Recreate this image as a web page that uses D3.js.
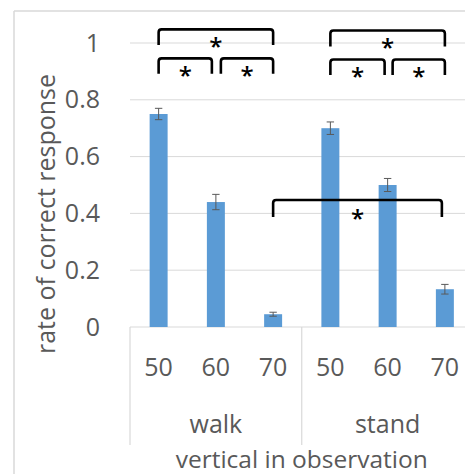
<!DOCTYPE html>
<html>
<head>
<meta charset="utf-8">
<script src="https://cdn.jsdelivr.net/npm/d3@7"></script>
<style>
  html, body { margin: 0; padding: 0; background: #fff; overflow: hidden; }
  svg { display: block; }
  text { font-family: "Open Sans", sans-serif; fill: #595959; }
</style>
</head>
<body>
<svg id="chart" width="465" height="474"></svg>
<script>
// ---- data ----
const groups = ["walk", "stand"];
const levels = ["50", "60", "70"];
const walkValues = [0.75, 0.44, 0.045];
const standValues = [0.70, 0.50, 0.133];
const walkErrors = [0.020, 0.027, 0.007];
const standErrors = [0.022, 0.023, 0.017];
const yTicks = [0, 0.2, 0.4, 0.6, 0.8, 1];
const yTickLabels = ["0", "0.2", "0.4", "0.6", "0.8", "1"];
const yTitle = "rate of correct response";
const xTitle = "vertical in observation";
// significance brackets: [group, level] to [group, level], top value, leg-bottom value
const brackets = [
  { a: ["walk", "50"], b: ["walk", "70"], top: 1.048, bottom: 0.993, ia: 0, ib: 0 },
  { a: ["walk", "50"], b: ["walk", "60"], top: 0.946, bottom: 0.892, ia: 0, ib: -4 },
  { a: ["walk", "60"], b: ["walk", "70"], top: 0.946, bottom: 0.892, ia: 5, ib: 0 },
  { a: ["stand", "50"], b: ["stand", "70"], top: 1.044, bottom: 0.988, ia: 0, ib: 0 },
  { a: ["stand", "50"], b: ["stand", "60"], top: 0.942, bottom: 0.887, ia: 0, ib: -3 },
  { a: ["stand", "60"], b: ["stand", "70"], top: 0.942, bottom: 0.887, ia: 5, ib: 0 },
  { a: ["walk", "70"], b: ["stand", "70"], top: 0.447, bottom: 0.387, ia: 0, ib: -3 }
];

const rows = [];
groups.forEach((g, gi) => {
  const vals = gi === 0 ? walkValues : standValues;
  const errs = gi === 0 ? walkErrors : standErrors;
  levels.forEach((l, li) => rows.push({ group: g, level: l, value: vals[li], err: errs[li] }));
});

// ---- layout ----
const svg = d3.select("#chart");
const plotLeft = 130, plotRight = 473.5, yTop = 43, yBottom = 327;
const axisBottom = 445;
const gridColor = "#D9D9D9";

const y = d3.scaleLinear().domain([0, 1]).range([yBottom, yTop]);
const x0 = d3.scaleBand().domain(groups).range([plotLeft, plotRight]).padding(0);
const x1 = d3.scaleBand().domain(levels).range([0, x0.bandwidth()])
  .paddingInner(0.686).paddingOuter(0.343);
const cx = (g, l) => x0(g) + x1(l) + x1.bandwidth() / 2;

// outer chart frame (partially visible)
svg.append("line").attr("x1", 14).attr("x2", 14).attr("y1", 11).attr("y2", 474)
  .attr("stroke", gridColor).attr("stroke-width", 1.5);
svg.append("line").attr("x1", 14).attr("x2", 465).attr("y1", 11).attr("y2", 11)
  .attr("stroke", gridColor).attr("stroke-width", 1.5);

// gridlines
svg.append("g").selectAll("line").data(yTicks.filter(d => d > 0)).join("line")
  .attr("x1", plotLeft).attr("x2", plotRight)
  .attr("y1", d => y(d)).attr("y2", d => y(d))
  .attr("stroke", gridColor).attr("stroke-width", 1);

// y axis labels
const yAxis = d3.axisLeft(y).tickValues(yTicks)
  .tickFormat((d, i) => yTickLabels[i]).tickSize(0).tickPadding(30);
const gy = svg.append("g").attr("transform", `translate(${plotLeft},0)`).call(yAxis);
gy.select(".domain").remove();
gy.selectAll("text").attr("font-size", 25).attr("fill", "#595959")
  .attr("font-family", "Open Sans, sans-serif");

// category axis line and separators
svg.append("line").attr("x1", plotLeft).attr("x2", plotRight)
  .attr("y1", yBottom).attr("y2", yBottom).attr("stroke", gridColor).attr("stroke-width", 1.2);
const seps = [plotLeft, ...groups.map(g => x0(g) + x0.bandwidth())];
svg.append("g").selectAll("line").data(seps).join("line")
  .attr("x1", d => d).attr("x2", d => d).attr("y1", yBottom).attr("y2", axisBottom)
  .attr("stroke", gridColor).attr("stroke-width", 1.2);

// bars
svg.append("g").selectAll("rect").data(rows).join("rect")
  .attr("x", d => x0(d.group) + x1(d.level))
  .attr("width", x1.bandwidth())
  .attr("y", d => y(d.value))
  .attr("height", d => y(0) - y(d.value))
  .attr("fill", "#5B9BD5");

// error bars
const eb = svg.append("g").attr("stroke", "#595959").attr("stroke-width", 1);
rows.forEach(d => {
  const c = cx(d.group, d.level);
  eb.append("line").attr("x1", c).attr("x2", c).attr("y1", y(d.value + d.err)).attr("y2", y(d.value - d.err));
  eb.append("line").attr("x1", c - 3.7).attr("x2", c + 3.7).attr("y1", y(d.value + d.err)).attr("y2", y(d.value + d.err));
  eb.append("line").attr("x1", c - 3.7).attr("x2", c + 3.7).attr("y1", y(d.value - d.err)).attr("y2", y(d.value - d.err));
});

// level labels
svg.append("g").selectAll("text").data(rows).join("text")
  .attr("x", d => cx(d.group, d.level)).attr("y", 376)
  .attr("text-anchor", "middle").attr("font-size", 25).text(d => d.level);

// group labels
svg.append("g").selectAll("text").data(groups).join("text")
  .attr("x", g => x0(g) + x0.bandwidth() / 2).attr("y", 433)
  .attr("text-anchor", "middle").attr("font-size", 25).text(g => g);

// axis titles
svg.append("text").attr("x", (plotLeft + plotRight) / 2).attr("y", 467.5)
  .attr("text-anchor", "middle").attr("font-size", 24.5).text(xTitle);
svg.append("text").attr("transform", "translate(55,214) rotate(-90)")
  .attr("text-anchor", "middle").attr("font-size", 25).text(yTitle);

// significance brackets
const bg = svg.append("g");
brackets.forEach(b => {
  const xa = cx(b.a[0], b.a[1]) + b.ia;
  const xb = cx(b.b[0], b.b[1]) + b.ib;
  const yt = y(b.top), yb = y(b.bottom), r = 3;
  const p = `M${xa},${yb} L${xa},${yt + r} Q${xa},${yt} ${xa + r},${yt} L${xb - r},${yt} Q${xb},${yt} ${xb},${yt + r} L${xb},${yb}`;
  bg.append("path").attr("d", p).attr("fill", "none").attr("stroke", "#000")
    .attr("stroke-width", 2.6).attr("stroke-linecap", "butt");
  const starY = yt + (yb - yt) * 0.8;
  bg.append("text").attr("x", (xa + xb) / 2).attr("y", starY + 13)
    .attr("text-anchor", "middle").attr("font-size", 24).attr("font-weight", 600)
    .style("fill", "#000").text("*");
});
</script>
</body>
</html>
